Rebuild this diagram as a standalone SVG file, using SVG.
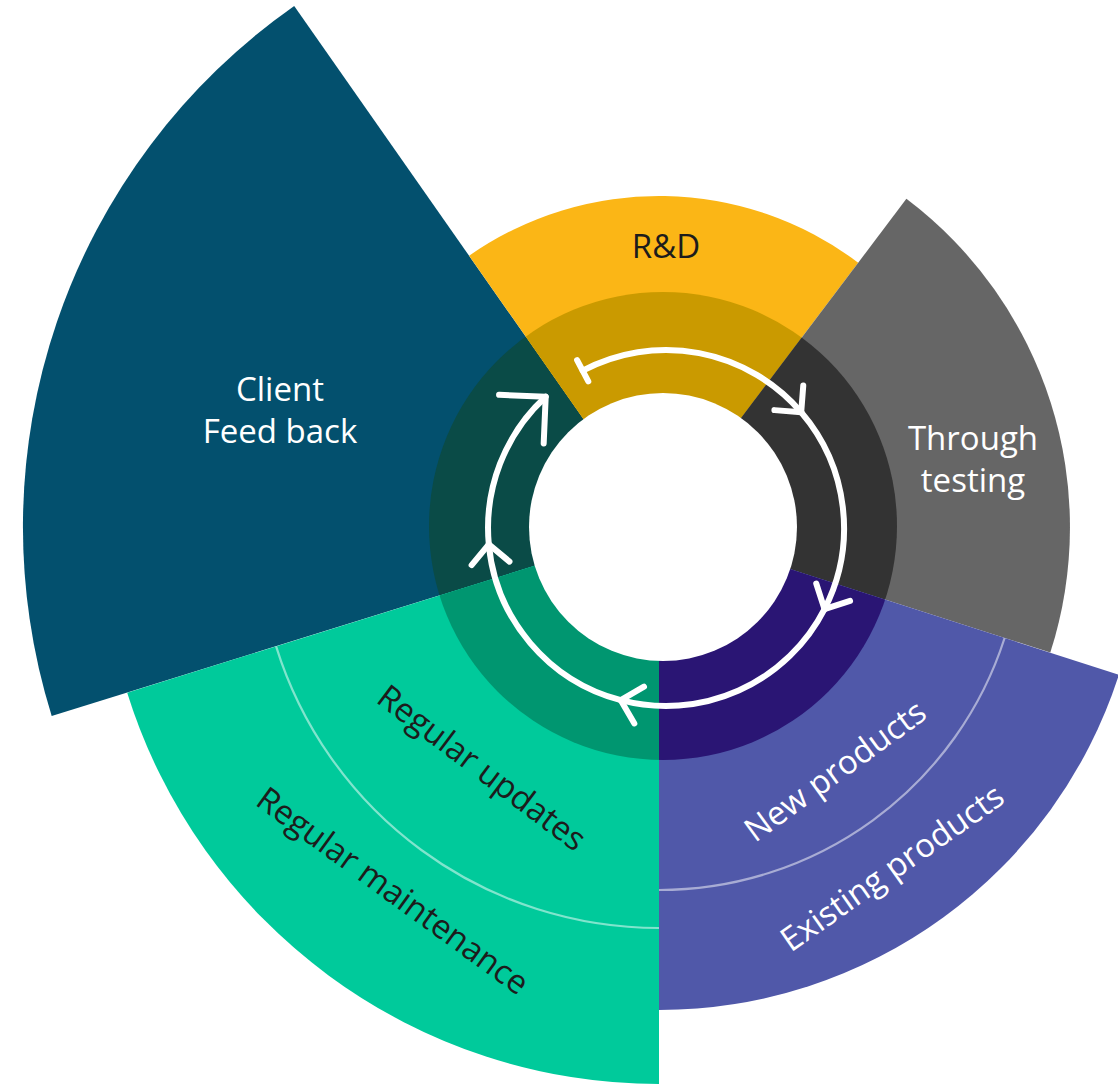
<svg xmlns="http://www.w3.org/2000/svg" width="1118" height="1088" viewBox="0 0 1118 1088">
  <style>
    .lbl { font-family: "Open Sans", "Liberation Sans", sans-serif; font-size: 33px; font-weight: 500; text-anchor: middle; }
    .w { fill: #ffffff; }
    .k { fill: #1c1c1c; }
    .sep { fill: none; stroke: #ffffff; stroke-opacity: 0.5; stroke-width: 2.2; }
    .arc { fill: none; stroke: #ffffff; stroke-width: 6; stroke-linecap: round; }
    .head { fill: none; stroke: #ffffff; stroke-width: 6; stroke-linecap: round; stroke-linejoin: round; }
  </style>
  <defs>
    <clipPath id="ring">
      <circle cx="663" cy="526" r="234"/>
    </clipPath>
    <marker id="chev" markerUnits="userSpaceOnUse" markerWidth="60" markerHeight="60" refX="0" refY="0" orient="auto" overflow="visible">
      <path class="head" d="M-19,-19 L0,0 L-19,19"/>
    </marker>
    <marker id="chevBig" markerUnits="userSpaceOnUse" markerWidth="80" markerHeight="80" refX="0" refY="0" orient="auto" overflow="visible">
      <path class="head" d="M-33,-33 L0,0 L-33,33"/>
    </marker>
    <marker id="bar" markerUnits="userSpaceOnUse" markerWidth="40" markerHeight="40" refX="0" refY="0" orient="auto" overflow="visible">
      <path class="head" d="M0,-12 L0,12"/>
    </marker>
  </defs>

  <rect x="0" y="0" width="1118" height="1088" fill="#ffffff"/>

  <g id="node-feedback">
    <path d="M659,527 L51.7,716.1 A636,636 0 0 1 294.2,6 Z" fill="#03506E"/>
    <path d="M659,527 L372.6,616.2 A300,300 0 0 1 486.9,281.2 Z" fill="#0A4B47" clip-path="url(#ring)"/>
    <text class="lbl w" x="280" y="401">Client</text>
    <text class="lbl w" x="280" y="443">Feed back</text>
  </g>

  <g id="node-rd">
    <path d="M659,527 L469.1,255.8 A331,331 0 0 1 858.2,262.7 Z" fill="#FBB616"/>
    <path d="M659,527 L486.9,281.2 A300,300 0 0 1 839.5,287.4 Z" fill="#CA9A00" clip-path="url(#ring)"/>
    <text class="lbl k" x="666" y="258">R&amp;D</text>
  </g>

  <g id="node-testing">
    <path d="M659,527 L906.4,198.8 A411,411 0 0 1 1050.3,652.6 Z" fill="#666666"/>
    <path d="M659,527 L839.5,287.4 A300,300 0 0 1 944.6,618.7 Z" fill="#333333" clip-path="url(#ring)"/>
    <text class="lbl w" x="973" y="450">Through</text>
    <text class="lbl w" x="973" y="492">testing</text>
  </g>

  <g id="node-products">
    <path d="M659,527 L1118.9,674.7 A483,483 0 0 1 659,1010 Z" fill="#5058A9"/>
    <path d="M659,527 L944.6,618.7 A300,300 0 0 1 659,827 Z" fill="#2A1574" clip-path="url(#ring)"/>
    <path class="sep" d="M1004.6,638 A363,363 0 0 1 659,890"/>
    <text class="lbl w" transform="translate(836,772) rotate(-36)" x="0" y="10">New products</text>
    <text class="lbl w" transform="translate(893,869) rotate(-35)" x="0" y="10">Existing products</text>
  </g>

  <g id="node-updates">
    <path d="M659,527 L659,1084 A557,557 0 0 1 127.2,692.7 Z" fill="#00CA9B"/>
    <path d="M659,527 L659,827 A300,300 0 0 1 372.6,616.2 Z" fill="#009670" clip-path="url(#ring)"/>
    <path class="sep" d="M659,928 A401,401 0 0 1 276.1,646.3"/>
    <text class="lbl k" transform="translate(481,769) rotate(37)" x="0" y="10">Regular updates</text>
    <text class="lbl k" transform="translate(392,892) rotate(36)" x="0" y="10">Regular maintenance</text>
  </g>

  <circle id="hole" cx="663" cy="527" r="134" fill="#ffffff"/>

  <g id="connectors">
    <path class="arc" d="M582.7,370.7 A178,178 0 0 1 801.2,412.2" marker-start="url(#bar)" marker-end="url(#chev)"/>
    <path class="arc" d="M801.2,412.2 A178,178 0 0 1 824.5,609.1" marker-end="url(#chev)"/>
    <path class="arc" d="M824.5,609.1 A178,178 0 0 1 620.8,700.2" marker-end="url(#chev)"/>
    <path class="arc" d="M620.8,700.2 A178,178 0 0 1 488.8,544.4" marker-end="url(#chev)"/>
    <path class="arc" d="M488.8,544.4 A178,178 0 0 1 545.7,396.8" marker-end="url(#chevBig)"/>
  </g>
</svg>
